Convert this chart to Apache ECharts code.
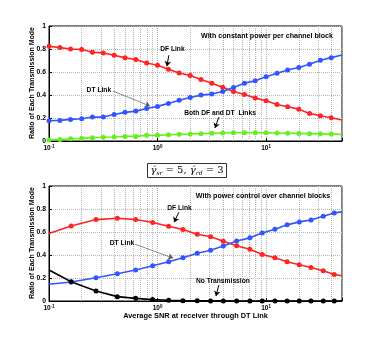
<!DOCTYPE html>
<html>
<head>
<meta charset="utf-8">
<script src="https://cdn.jsdelivr.net/npm/echarts@6/dist/echarts.min.js"></script>
<style>
  html, body { margin: 0; padding: 0; background: #fff; }
  #chart { width: 377px; height: 339px; }
</style>
</head>
<body>
<div id="chart"></div>
<script>
// top panel: constant power per channel block
const xTop = [0.1, 0.126, 0.158, 0.2, 0.251, 0.316, 0.398, 0.501, 0.631, 0.794,
  1, 1.26, 1.58, 2, 2.51, 3.16, 3.98, 5.01, 6.31, 7.94,
  10, 12.6, 15.8, 20, 25.1, 31.6, 39.8, 50];
const dfTop = [0.824, 0.812, 0.800, 0.795, 0.772, 0.766, 0.746, 0.723, 0.708, 0.679,
  0.659, 0.624, 0.592, 0.569, 0.535, 0.503, 0.468, 0.431, 0.405, 0.373,
  0.350, 0.318, 0.298, 0.277, 0.240, 0.220, 0.202, 0.182];
const dtTop = [0.176, 0.179, 0.188, 0.194, 0.208, 0.208, 0.231, 0.249, 0.260, 0.283,
  0.301, 0.327, 0.355, 0.379, 0.399, 0.408, 0.431, 0.465, 0.503, 0.523,
  0.558, 0.590, 0.618, 0.639, 0.668, 0.702, 0.725, 0.748];
const bothTop = [0.009, 0.014, 0.020, 0.023, 0.029, 0.032, 0.035, 0.040, 0.040, 0.049,
  0.049, 0.055, 0.058, 0.061, 0.064, 0.068, 0.070, 0.072, 0.072, 0.072,
  0.071, 0.070, 0.068, 0.066, 0.064, 0.062, 0.060, 0.058];

// bottom panel: power control over channel blocks
const xBottom = [0.1, 0.16, 0.271, 0.426, 0.628, 0.901, 1.265, 1.713, 2.32, 3.08,
  4.03, 5.35, 7.09, 9.21, 12.05, 15.6, 20.2, 25.9, 33.6, 42.4, 50];
const dfBottom = [0.587, 0.653, 0.708, 0.720, 0.708, 0.682, 0.650, 0.621, 0.581, 0.558,
  0.520, 0.480, 0.450, 0.405, 0.376, 0.341, 0.315, 0.292, 0.263, 0.231, 0.220];
const dtBottom = [0.145, 0.165, 0.202, 0.237, 0.269, 0.306, 0.341, 0.376, 0.416, 0.442,
  0.478, 0.522, 0.549, 0.592, 0.624, 0.662, 0.688, 0.705, 0.737, 0.766, 0.775];
const noTxBottom = [0.269, 0.168, 0.087, 0.038, 0.023, 0.012, 0.006, 0.003, 0.002, 0.001,
  0.001, 0, 0, 0, 0, 0, 0, 0, 0, 0, 0];

// log grid lines between the decades
const minorX = [0.2, 0.3, 0.4, 0.5, 0.6, 0.7, 0.8, 0.9, 2, 3, 4, 5, 6, 7, 8, 9, 20, 30, 40];
const yTicks = [0, 0.2, 0.4, 0.6, 0.8, 1];
const yName = 'Ratio of Each Transmission Mode';

const FONT = 'Liberation Sans';
const RED = '#ff2424', BLUE = '#3355ff', GREEN = '#66ee22', BLACK = '#000000';
const GRIDLINE = { color: '#b4b4b4', type: 'dotted', width: 1 };

function pairs(xs, ys, hidden) {
  return ys.map(function (v, i) {
    return { value: [xs[i], v], symbol: hidden.indexOf(i) >= 0 ? 'none' : 'circle' };
  });
}

function curve(name, xs, ys, color, gi, hidden) {
  return {
    name: name, type: 'line', xAxisIndex: gi, yAxisIndex: gi,
    data: pairs(xs, ys, hidden),
    symbolSize: 5, showAllSymbol: true,
    lineStyle: { color: color, width: 1.6 },
    itemStyle: { color: color },
    z: 5
  };
}

function gridLines(gi) {
  return {
    type: 'line', xAxisIndex: gi, yAxisIndex: gi, data: [], silent: true, z: 1,
    markLine: {
      silent: true, symbol: ['none', 'none'], label: { show: false },
      data: minorX.map(function (v) {
        return [{ coord: [v, 0], lineStyle: GRIDLINE }, { coord: [v, 1] }];
      })
    }
  };
}

// notes: [text, textPos, arrowFrom, arrowTo, arrowColor]
function notes(gi, list) {
  return {
    type: 'line', xAxisIndex: gi, yAxisIndex: gi, data: [], silent: true, z: 6,
    markLine: {
      silent: true, symbol: ['none', 'arrow'], symbolSize: 5,
      label: { show: false },
      data: list.map(function (n) {
        return [
          { coord: n[2], lineStyle: { color: n[4], width: n[4] === '#000' ? 1 : 0.7, type: 'solid' } },
          { coord: n[3] }
        ];
      })
    },
    markPoint: {
      silent: true, symbol: 'rect', symbolSize: 1,
      itemStyle: { color: 'transparent' },
      label: {
        show: true, position: 'inside', color: '#000',
        fontFamily: FONT, fontWeight: 'bold', fontSize: 6.7,
        formatter: '{b}'
      },
      data: list.map(function (n) { return { name: n[0], coord: n[1] }; })
    }
  };
}

function xAxis(gi, named) {
  return {
    type: 'log', logBase: 10, gridIndex: gi, min: 0.1, max: 50, interval: 1,
    name: named ? 'Average SNR at receiver through DT Link' : '',
    nameLocation: 'middle', nameGap: 9,
    nameTextStyle: { fontFamily: FONT, fontWeight: 'bold', fontSize: 7.4, color: '#000', verticalAlign: 'top' },
    axisLine: { lineStyle: { color: '#000', width: 1 } },
    axisTick: { inside: true, length: 3, lineStyle: { color: '#000' } },
    splitLine: { show: true, lineStyle: GRIDLINE },
    axisLabel: {
      margin: 3, color: '#000',
      formatter: function (v) {
        const e = Math.round(Math.log10(v));
        if (Math.abs(Math.log10(v) - e) > 1e-6) return '';
        return '{b|10}{s|' + e + '}';
      },
      rich: {
        b: { fontFamily: FONT, fontWeight: 'bold', fontSize: 6.5, color: '#000' },
        s: { fontFamily: FONT, fontWeight: 'bold', fontSize: 4.5, color: '#000', verticalAlign: 'top', padding: [0, 0, 4, 0] }
      }
    }
  };
}

function yAxis(gi) {
  return {
    type: 'value', gridIndex: gi, min: 0, max: 1, interval: 0.2,
    axisLine: { show: true, lineStyle: { color: '#000', width: 1 } },
    axisTick: { show: true, inside: true, length: 3, lineStyle: { color: '#000' } },
    splitLine: { show: true, lineStyle: GRIDLINE },
    axisLabel: {
      margin: 3, color: '#000', fontFamily: FONT, fontWeight: 'bold', fontSize: 6.8,
      formatter: function (v) { return yTicks.indexOf(v) >= 0 ? String(v) : ''; }
    }
  };
}

// rotated y axis title, placed beside each panel
function yTitle(cy) {
  return {
    type: 'text', x: 32, y: cy, rotation: Math.PI / 2,
    style: {
      text: yName, align: 'center', verticalAlign: 'middle',
      fontFamily: FONT, fontWeight: 'bold', fontSize: 7, fill: '#000'
    }
  };
}

const chart = echarts.init(document.getElementById('chart'), null, { renderer: 'canvas' });

const option = {
  animation: false,
  backgroundColor: '#fff',
  title: [
    {
      text: 'With constant power per channel block', left: 262, top: 28, textAlign: 'center',
      textStyle: { fontFamily: FONT, fontWeight: 'bold', fontSize: 7.1, color: '#000' }
    },
    {
      text: 'With power control over channel blocks', left: 258, top: 188, textAlign: 'center',
      textStyle: { fontFamily: FONT, fontWeight: 'bold', fontSize: 7.1, color: '#000' }
    }
  ],
  grid: [
    { left: 49, top: 26, width: 293, height: 115, show: true, borderColor: '#000', borderWidth: 1, backgroundColor: '#fff' },
    { left: 49, top: 186, width: 293, height: 115, show: true, borderColor: '#000', borderWidth: 1, backgroundColor: '#fff' }
  ],
  xAxis: [xAxis(0, false), xAxis(1, true)],
  yAxis: [yAxis(0), yAxis(1)],
  graphic: [
    yTitle(83),
    yTitle(243),
    {
      type: 'group', left: 147, top: 163,
      children: [
        { type: 'rect', shape: { x: 0, y: 0, width: 79, height: 14 }, style: { fill: '#fff', stroke: '#333', lineWidth: 1 } },
        {
          type: 'text', x: 39.5, y: 7,
          style: {
            text: '{g|γ́}{s|sr}{t| = 5, }{g|γ́}{s|rd}{t| = 3}',
            align: 'center', verticalAlign: 'middle',
            rich: {
              g: { fontFamily: 'DejaVu Serif', fontStyle: 'italic', fontSize: 10, fill: '#000' },
              s: { fontFamily: 'DejaVu Serif', fontStyle: 'italic', fontSize: 6, fill: '#000', padding: [5, 0, 0, 0] },
              t: { fontFamily: 'DejaVu Serif', fontSize: 10, fill: '#000' }
            }
          }
        }
      ]
    }
  ],
  series: [
    gridLines(0),
    curve('DF Link', xTop, dfTop, RED, 0, [27]),
    curve('DT Link', xTop, dtTop, BLUE, 0, [27]),
    curve('Both DF and DT Links', xTop, bothTop, GREEN, 0, [27]),
    notes(0, [
      ['DF Link', [1.37, 0.798], [1.27, 0.746], [1.22, 0.650], '#000'],
      ['DT Link', [0.288, 0.442], [0.388, 0.434], [0.851, 0.304], '#555'],
      ['Both DF and DT  Links', [3.76, 0.243], [3.67, 0.208], [3.38, 0.113], '#000']
    ]),
    gridLines(1),
    curve('DF Link', xBottom, dfBottom, RED, 1, [0, 20]),
    curve('DT Link', xBottom, dtBottom, BLUE, 1, [0, 20]),
    curve('No Transmission', xBottom, noTxBottom, BLACK, 1, [0, 20]),
    notes(1, [
      ['DF Link', [1.59, 0.809], [1.57, 0.772], [1.42, 0.685], '#000'],
      ['DT Link', [0.47, 0.503], [0.619, 0.494], [1.39, 0.373], '#555'],
      ['No Transmission', [4.0, 0.173], [3.67, 0.139], [3.45, 0.043], '#000']
    ])
  ]
};

chart.setOption(option);
</script>
</body>
</html>
